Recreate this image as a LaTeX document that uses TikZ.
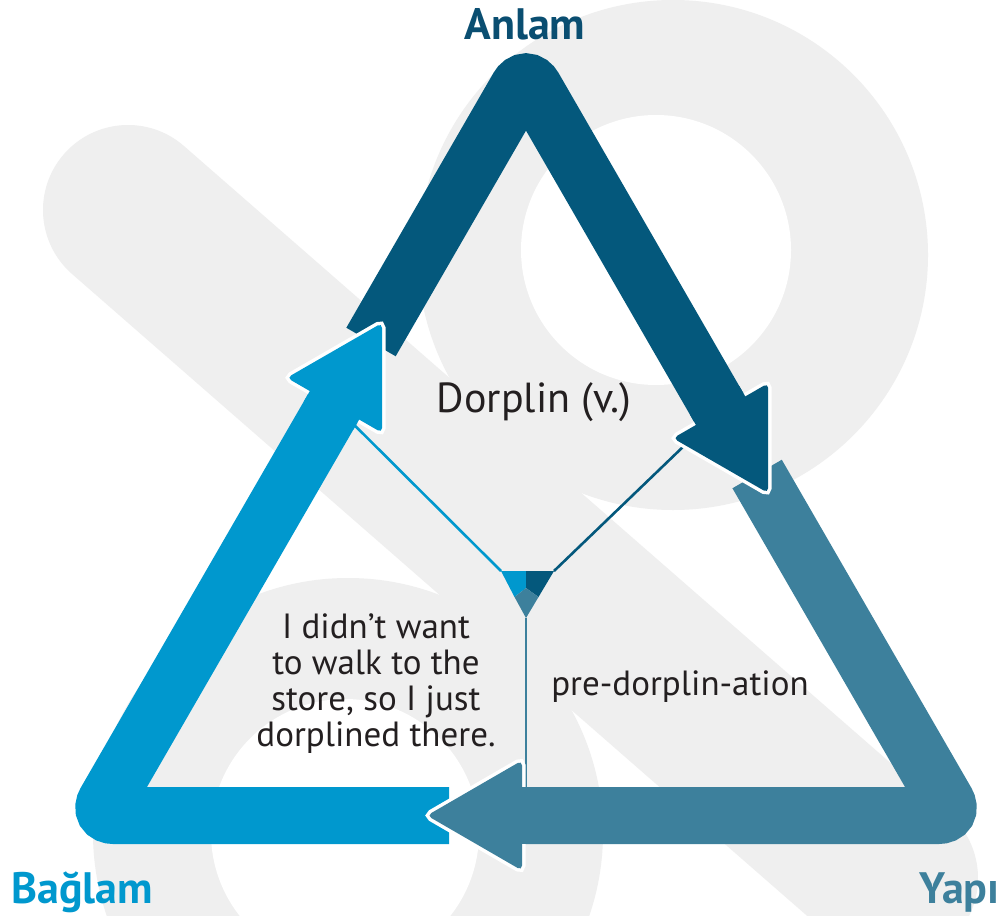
\documentclass[tikz,border=0pt]{standalone}
\usepackage{fontspec}
\setmainfont{PT Sans}
\definecolor{lightb}{HTML}{0098CE}
\definecolor{darkb}{HTML}{04587C}
\definecolor{tealb}{HTML}{3D809C}
\definecolor{titledark}{HTML}{0A4E71}
\definecolor{wm}{HTML}{EFEFEF}
\definecolor{txt}{HTML}{231F20}
\begin{document}
\begin{tikzpicture}[x=1pt,y=-1pt,
  band/.style={line width=57pt, rounded corners=16.5pt, line cap=butt, line join=miter},
  headline/.style={draw=white, line width=7pt, rounded corners=5pt},
  headfill/.style={rounded corners=5pt},
  link/.style={line width=2.6pt},
  label/.style={font=\bfseries\fontsize{44}{48}\selectfont, inner sep=0pt},
  body/.style={font=\fontsize{35}{36}\selectfont, text=txt, inner sep=0pt, align=center}]
\useasboundingbox (0,0) rectangle (1003,915);
\fill[white] (0,0) rectangle (1003,915);
% watermark
\draw[wm, line width=170pt, line cap=round] (128,210) -- (893,878);
\fill[wm] (673,255) circle[radius=255];
\fill[white] (656,250) circle[radius=135];
\fill[wm] (348,833) circle[radius=255];
\fill[white] (345,833) circle[radius=134];
% geometry
\coordinate (A) at (526,73.6);
\coordinate (BL) at (97.6,815.5);
\coordinate (BR) at (954.4,815.5);
\coordinate (SL) at (449,815.5);
\coordinate (ML) at (334.5,405.3);
\coordinate (EL) at (339.5,396.6);
\coordinate (PL) at (328.5,415.7);
\coordinate (TL) at (382,323);
\coordinate (L1) at (286.9,377.8);
\coordinate (L2) at (382.1,432.8);
\coordinate (SD) at (371,342);
\coordinate (MR) at (720.6,410.7);
\coordinate (ER) at (725.6,419.4);
\coordinate (PR) at (714.6,400.3);
\coordinate (TR) at (768.1,493);
\coordinate (R1) at (768.2,383.2);
\coordinate (R2) at (673,438.2);
\coordinate (ST) at (757.1,474);
\coordinate (MB) at (522,815.5);
\coordinate (EB) at (512,815.5);
\coordinate (PB) at (534,815.5);
\coordinate (TB) at (427,815.5);
\coordinate (B1) at (522,760.5);
\coordinate (B2) at (522,870.5);
\coordinate (YL) at (501,571);
\coordinate (YR) at (554,571);
\coordinate (YM) at (526,571);
\coordinate (YC) at (526,588);
\coordinate (YA) at (514.5,597);
\coordinate (YD) at (538.5,597);
\coordinate (YB) at (526,618);
\coordinate (YE) at (526,787);
% connectors
\draw[link, lightb] (ML) -- (YL);
\draw[link, darkb] (MR) -- (YR);
\draw[link, tealb] (YB) -- (YE);
% bands
\draw[band, darkb] (SD) -- (A) -- (ER);
\draw[band, tealb] (ST) -- (BR) -- (EB);
\draw[band, lightb] (SL) -- (BL) -- (EL);
% arrow heads
\path[headline] (TL) -- (L1) -- (L2) -- cycle;
\fill[headfill, lightb] (TL) -- (L1) -- (L2) -- cycle;
\draw[line width=57pt, lightb] (PL) -- (EL);
\path[headline] (TR) -- (R1) -- (R2) -- cycle;
\fill[headfill, darkb] (TR) -- (R1) -- (R2) -- cycle;
\draw[line width=57pt, darkb] (PR) -- (ER);
\path[headline] (TB) -- (B1) -- (B2) -- cycle;
\fill[headfill, tealb] (TB) -- (B1) -- (B2) -- cycle;
\draw[line width=57pt, tealb] (PB) -- (EB);
% Y junction
\fill[lightb] (YL) -- (YM) -- (YC) -- (YA) -- cycle;
\fill[darkb] (YM) -- (YR) -- (YD) -- (YC) -- cycle;
\fill[tealb] (YC) -- (YD) -- (YB) -- (YA) -- cycle;
% texts
\node[label, text=titledark, anchor=base] (anlam) at (525,40) {Anlam};
\node[label, text=lightb, anchor=base west] (baglam) at (11,903) {Bağlam};
\node[label, text=tealb, anchor=base west] (yapi) at (919,903) {Yapı};
\node[font=\fontsize{42}{46}\selectfont, text=txt, inner sep=0pt, anchor=base] (dorplin) at (534,412) {Dorplin (v.)};
\node[body, anchor=base] (example) at (376,746) {I didn’t want\\to walk to the\\store, so I just\\dorplined there.};
\node[body, anchor=base] (pre) at (680,695) {pre-dorplin-ation};
\end{tikzpicture}
\end{document}
